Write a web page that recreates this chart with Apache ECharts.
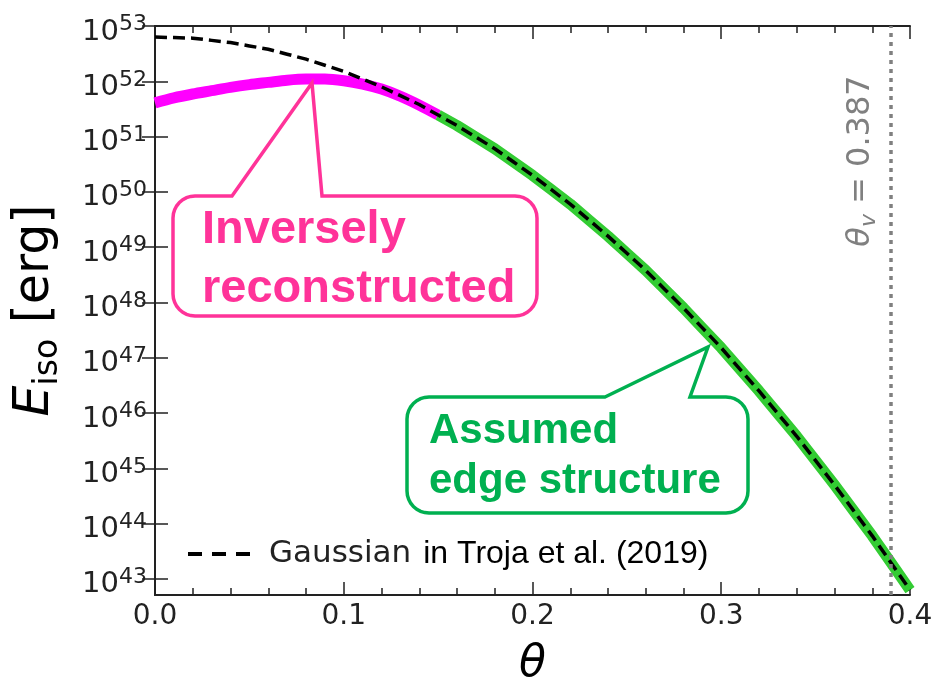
<!DOCTYPE html>
<html>
<head>
<meta charset="utf-8">
<script src="https://cdn.jsdelivr.net/npm/echarts@6/dist/echarts.min.js"></script>
<style>html,body{margin:0;padding:0;background:#fff;}#c{width:933px;height:680px;}</style>
</head>
<body>
<div id="c"></div>
<script>
// theta values (rad)
var thetaGauss = [0.00,0.01,0.02,0.03,0.04,0.05,0.06,0.07,0.08,0.09,0.10,0.11,0.12,0.13,0.14,0.15,0.16,0.17,0.18,0.19,0.20,0.21,0.22,0.23,0.24,0.25,0.26,0.27,0.28,0.29,0.30,0.31,0.32,0.33,0.34,0.35,0.36,0.37,0.38,0.39,0.40];
// log10(E_iso / erg) of the Gaussian jet (Troja et al. 2019)
var logEGauss = [52.80,52.79,52.78,52.74,52.70,52.64,52.58,52.49,52.40,52.29,52.18,52.04,51.90,51.74,51.58,51.39,51.20,50.99,50.78,50.54,50.30,50.04,49.78,49.49,49.20,48.89,48.58,48.24,47.90,47.54,47.18,46.79,46.40,45.99,45.58,45.14,44.70,44.24,43.78,43.29,42.80];
// inversely reconstructed part (magenta)
var thetaRecon = [0.00,0.01,0.02,0.03,0.04,0.05,0.06,0.07,0.08,0.09,0.10,0.11,0.12,0.13,0.14,0.15];
var logERecon = [51.61,51.70,51.77,51.83,51.89,51.94,51.98,52.02,52.04,52.04,52.01,51.95,51.86,51.73,51.57,51.39];
// assumed edge structure (green)
var thetaEdge = [0.15,0.16,0.17,0.18,0.19,0.20,0.21,0.22,0.23,0.24,0.25,0.26,0.27,0.28,0.29,0.30,0.31,0.32,0.33,0.34,0.35,0.36,0.37,0.38,0.39,0.40];
var logEEdge = [51.39,51.20,50.99,50.78,50.54,50.30,50.04,49.78,49.49,49.20,48.89,48.58,48.24,47.90,47.54,47.18,46.79,46.40,45.99,45.58,45.14,44.70,44.24,43.78,43.29,42.80];
// axis ticks
var yTickExps = [43,44,45,46,47,48,49,50,51,52,53];
var thetaView = 0.387;

function pairs(xs, ys){ return xs.map(function(x,i){ return [x, ys[i]]; }); }

var AX = '#222';
var FONT = 'DejaVu Sans';
var chart = echarts.init(document.getElementById('c'), null, {renderer:'canvas'});

var yLabelRich = {
  b:{fontSize:29, fontFamily:FONT, color:AX, lineHeight:29, verticalAlign:'bottom', padding:[12,0,8,0]},
  s:{fontSize:22, fontFamily:FONT, color:AX, lineHeight:22, verticalAlign:'bottom', padding:[0,0,19,0]}
};
function yAxisCfg(pos, showLabel){
  return {
    type:'value', position:pos, min:42.71, max:53,
    axisLine:{show:true, lineStyle:{color:AX, width:2}},
    axisTick:{show:true, inside:true, length:13, customValues:yTickExps, lineStyle:{color:AX, width:1.5}},
    axisLabel:{show:showLabel, customValues:yTickExps, margin:8, padding:[28,0,0,0],
      formatter:function(v){ return '{b|10}{s|' + Math.round(v) + '}'; }, rich:yLabelRich},
    splitLine:{show:false}
  };
}
function xAxisCfg(pos, showLabel){
  return {
    type:'value', position:pos, min:0, max:0.4, interval:0.1,
    axisLine:{show:true, onZero:false, lineStyle:{color:AX, width:2}},
    axisTick:{show:true, inside:true, length:13, lineStyle:{color:AX, width:1.5}},
    minorTick:{show:true, splitNumber:5, length:7, lineStyle:{color:AX, width:1.5}},
    axisLabel:{show:showLabel, margin:8, fontSize:28, fontFamily:FONT, color:AX,
      formatter:function(v){ return v.toFixed(1); }},
    splitLine:{show:false}, minorSplitLine:{show:false}
  };
}

var xMain = xAxisCfg('bottom', true);
xMain.name = 'θ';
xMain.nameLocation = 'middle';
xMain.nameGap = 48;
xMain.nameTextStyle = {fontSize:44, fontStyle:'italic', fontFamily:FONT, color:'#000'};
var yMain = yAxisCfg('left', true);
yMain.name = '{e|E}{sub|iso}{t| [erg]}';
yMain.nameLocation = 'middle';
yMain.nameRotate = 90;
yMain.nameGap = 93;
yMain.nameTextStyle = {rich:{
  e:{fontSize:49, fontStyle:'italic', fontFamily:FONT, color:'#000', lineHeight:49, padding:[0,0,5,0]},
  sub:{fontSize:33, fontFamily:FONT, color:'#000', lineHeight:33, padding:[21,0,0,0]},
  t:{fontSize:49, fontFamily:FONT, color:'#000', lineHeight:49, padding:[0,0,5,0]}
}};

var PINK = '#FF3399', GREEN = '#00B050';
// callout outline as polygon points (rounded box + pointer)
function callout(l,t,r,b,legL,legR,tx,ty,rad){
  var pts = [[legL,t],[tx,ty],[legR,t]];
  function arc(cx,cy,a0,a1){
    for (var k=0;k<=8;k++){ var a=a0+(a1-a0)*k/8; pts.push([cx+rad*Math.cos(a), cy+rad*Math.sin(a)]); }
  }
  arc(r-rad, t+rad, -Math.PI/2, 0);
  arc(r-rad, b-rad, 0, Math.PI/2);
  arc(l+rad, b-rad, Math.PI/2, Math.PI);
  arc(l+rad, t+rad, Math.PI, 1.5*Math.PI);
  return pts;
}

var option = {
  animation:false,
  backgroundColor:'#fff',
  grid:{left:155, right:23, top:26, bottom:85, containLabel:false, outerBoundsMode:'none'},
  xAxis:[xMain, xAxisCfg('top', false)],
  yAxis:[yMain, yAxisCfg('right', false)],
  legend:{
    show:true, left:183, top:533, itemWidth:62, itemHeight:4,
    data:[{name:'Gaussian', icon:'path://M0,0h14v4h-14z M24,0h14v4h-14z M48,0h14v4h-14z', itemStyle:{color:'#000'}}],
    formatter:function(){ return '{g|Gaussian}{t|in Troja et al. (2019)}'; },
    textStyle:{rich:{
      g:{fontSize:31, fontFamily:FONT, color:'#222', padding:[0,12,0,14]},
      t:{fontSize:32, fontFamily:'Liberation Sans', color:'#000'}
    }}
  },
  series:[
    {type:'line', name:'Reconstructed', data:pairs(thetaRecon, logERecon), showSymbol:false, symbol:'none', smooth:0.3,
     lineStyle:{color:'#FF00FF', width:11}, z:2, silent:true},
    {type:'line', name:'Edge', data:pairs(thetaEdge, logEEdge), showSymbol:false, symbol:'none', smooth:false,
     lineStyle:{color:'#33CC33', width:11, join:'round'}, z:3, silent:true},
    {type:'line', name:'Gaussian', data:pairs(thetaGauss, logEGauss), showSymbol:false, symbol:'none', smooth:false,
     lineStyle:{color:'#000', width:3.5, type:[12,6]}, z:4, silent:true,
     markLine:{symbol:'none', silent:true, label:{show:false},
       lineStyle:{type:[4,5], color:'#808080', width:3.5},
       data:[{xAxis:thetaView}]}}
  ],
  graphic:[
    {type:'polygon', shape:{points:callout(173,196,537,316,232,322,312,83,22)},
     style:{fill:'none', stroke:PINK, lineWidth:3.5}, z:10},
    {type:'text', x:202, y:230, style:{text:'Inversely', fill:PINK, font:'bold 47px "Liberation Sans"', textAlign:'left', textVerticalAlign:'middle'}, z:10},
    {type:'text', x:202, y:289, style:{text:'reconstructed', fill:PINK, font:'bold 47px "Liberation Sans"', textAlign:'left', textVerticalAlign:'middle'}, z:10},
    {type:'polygon', shape:{points:callout(407,397,748,513,605,690,708,347,22)},
     style:{fill:'none', stroke:GREEN, lineWidth:3.5}, z:10},
    {type:'text', x:429, y:431, style:{text:'Assumed', fill:GREEN, font:'bold 42px "Liberation Sans"', textAlign:'left', textVerticalAlign:'middle'}, z:10},
    {type:'text', x:429, y:481, style:{text:'edge structure', fill:GREEN, font:'bold 42px "Liberation Sans"', textAlign:'left', textVerticalAlign:'middle'}, z:10},
    {type:'text', x:863, y:161, rotation:Math.PI/2,
     style:{text:'{a|θ}{s|v}{n| = 0.387}', fill:'#808080', textAlign:'center', textVerticalAlign:'middle',
       rich:{
         a:{fontSize:32, fontStyle:'italic', fontFamily:FONT, fill:'#808080', lineHeight:32, padding:[0,0,4,0]},
         s:{fontSize:22, fontStyle:'italic', fontFamily:FONT, fill:'#808080', lineHeight:22, padding:[12,0,0,0]},
         n:{fontSize:32, fontFamily:FONT, fill:'#808080', lineHeight:32, padding:[0,0,4,0]}
       }}, z:10}
  ]
};
chart.setOption(option);
</script>
</body>
</html>
